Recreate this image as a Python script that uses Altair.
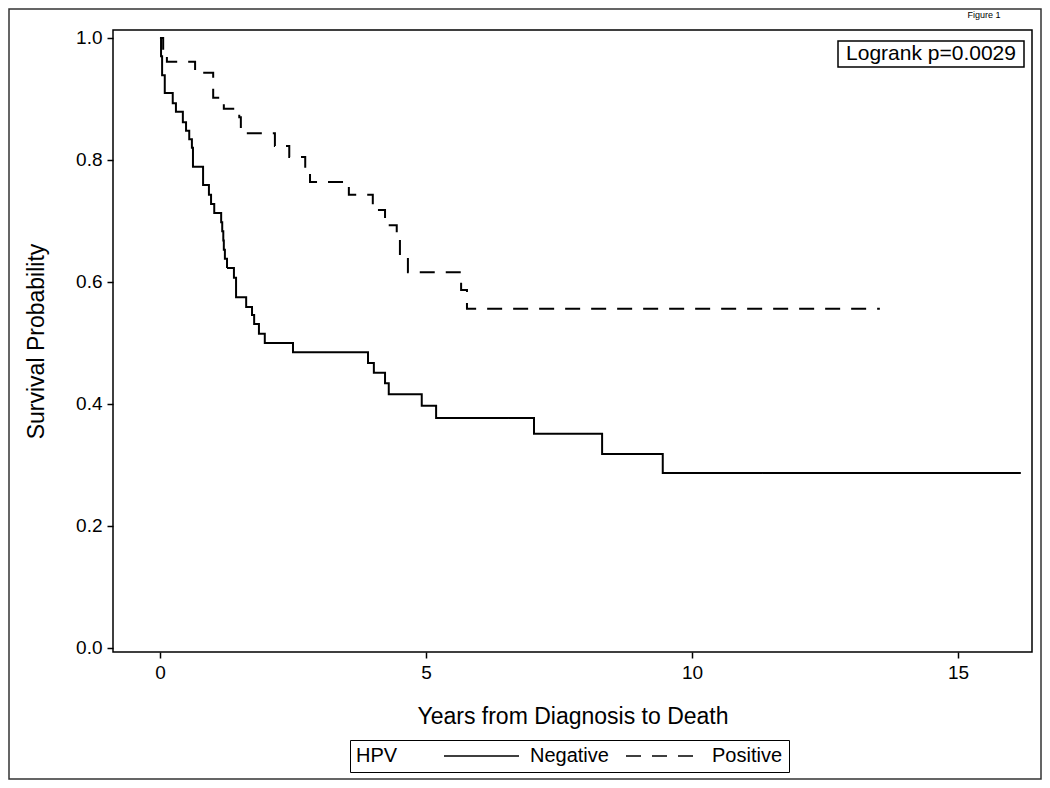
import altair as alt
import pandas as pd

# Kaplan-Meier step points (time in years, survival after the event)
neg_time = [0, 0.02, 0.04, 0.09, 0.24, 0.30, 0.43, 0.49, 0.55, 0.60, 0.62, 0.81, 0.92, 0.96,
            1.02, 1.15, 1.17, 1.19, 1.20, 1.22, 1.26, 1.39, 1.43, 1.62, 1.73, 1.77, 1.86, 1.97,
            2.50, 3.91, 4.02, 4.23, 4.30, 4.92, 5.19, 7.03, 8.31, 9.45, 16.18]
neg_surv = [1.0, 0.970, 0.939, 0.910, 0.893, 0.879, 0.862, 0.848, 0.834, 0.820, 0.789, 0.759,
            0.743, 0.728, 0.713, 0.698, 0.683, 0.668, 0.653, 0.638, 0.623, 0.607, 0.575, 0.559,
            0.546, 0.531, 0.515, 0.500, 0.485, 0.467, 0.451, 0.434, 0.416, 0.397, 0.377, 0.351,
            0.318, 0.287, 0.287]

pos_time = [0, 0.06, 0.13, 0.66, 1.00, 1.20, 1.49, 1.52, 2.16, 2.43, 2.73, 2.82, 3.55, 4.00,
            4.23, 4.45, 4.51, 4.66, 5.66, 5.77, 13.53]
pos_surv = [1.0, 0.979, 0.961, 0.943, 0.902, 0.884, 0.870, 0.844, 0.823, 0.805, 0.784, 0.764,
            0.743, 0.718, 0.693, 0.669, 0.644, 0.616, 0.587, 0.556, 0.556]

groups = ["Negative", "Positive"]
x_ticks = [0, 5, 10, 15]
y_ticks = [0.0, 0.2, 0.4, 0.6, 0.8, 1.0]
logrank_label = ["Logrank p=0.0029"]
figure_label = ["Figure 1"]

FONT = "Liberation Sans, Arial, sans-serif"

df = pd.concat([
    pd.DataFrame({"time": neg_time, "surv": neg_surv, "HPV": groups[0]}),
    pd.DataFrame({"time": pos_time, "surv": pos_surv, "HPV": groups[1]}),
], ignore_index=True)

x_domain = [-0.883, 16.39]
y_domain = [-0.0066, 1.0131]

lines = alt.Chart(df).mark_line(
    interpolate="step-after", color="black", strokeWidth=2
).encode(
    x=alt.X("time:Q",
            scale=alt.Scale(domain=x_domain, nice=False, zero=False),
            axis=alt.Axis(values=x_ticks, format="d", title="Years from Diagnosis to Death")),
    y=alt.Y("surv:Q",
            scale=alt.Scale(domain=y_domain, nice=False, zero=False),
            axis=alt.Axis(values=y_ticks, format=".1f", title="Survival Probability")),
    strokeDash=alt.StrokeDash(
        "HPV:N",
        scale=alt.Scale(domain=groups, range=[[1, 0], [15, 11]]),
        legend=alt.Legend(
            orient="none", legendX=237, legendY=710, direction="horizontal",
            title="HPV", titleOrient="left", titleFont=FONT, titleFontSize=20,
            titleFontWeight="normal", titleColor="black", titlePadding=45,
            labelFont=FONT, labelFontSize=20, labelColor="black", labelOffset=10,
            symbolType="stroke", symbolSize=5625, symbolStrokeWidth=1.5,
            symbolStrokeColor="black", clipHeight=20, columnPadding=16,
            strokeColor="black", padding=6,
        ),
    ),
)

box = alt.Chart(pd.DataFrame({"t": logrank_label})).mark_rect(
    fill="white", stroke="black", strokeWidth=1.5
).encode(x=alt.value(725), x2=alt.value(911), y=alt.value(11), y2=alt.value(37))

box_text = alt.Chart(pd.DataFrame({"t": logrank_label})).mark_text(
    font=FONT, fontSize=21, align="center", baseline="middle", color="black"
).encode(x=alt.value(818), y=alt.value(24), text="t:N")

fig_text = alt.Chart(pd.DataFrame({"t": figure_label})).mark_text(
    font=FONT, fontSize=9, align="center", baseline="middle", color="black"
).encode(x=alt.value(871), y=alt.value(-15), text="t:N")

frame = alt.Chart(pd.DataFrame({"t": figure_label})).mark_rect(
    fill=None, stroke="#333333", strokeWidth=1.5
).encode(x=alt.value(-104), x2=alt.value(928), y=alt.value(-21), y2=alt.value(749))

chart = alt.layer(frame, lines, box, box_text, fig_text).properties(
    width=919, height=622,
    autosize=alt.AutoSizeParams(type="none"),
    padding={"left": 105, "top": 22, "right": 10, "bottom": 128},
    background="white",
).configure_view(
    stroke="black", strokeWidth=1.5
).configure_axis(
    domain=False, grid=False, tickColor="black", tickSize=6, tickWidth=1.5,
    labelFont=FONT, labelFontSize=19, labelColor="black", labelPadding=5,
    titleFont=FONT, titleFontSize=23, titleFontWeight="normal", titleColor="black",
).configure_axisX(titlePadding=23).configure_axisY(titlePadding=27)

chart.save("out.html", embed_options={"renderer": "svg", "actions": False})
